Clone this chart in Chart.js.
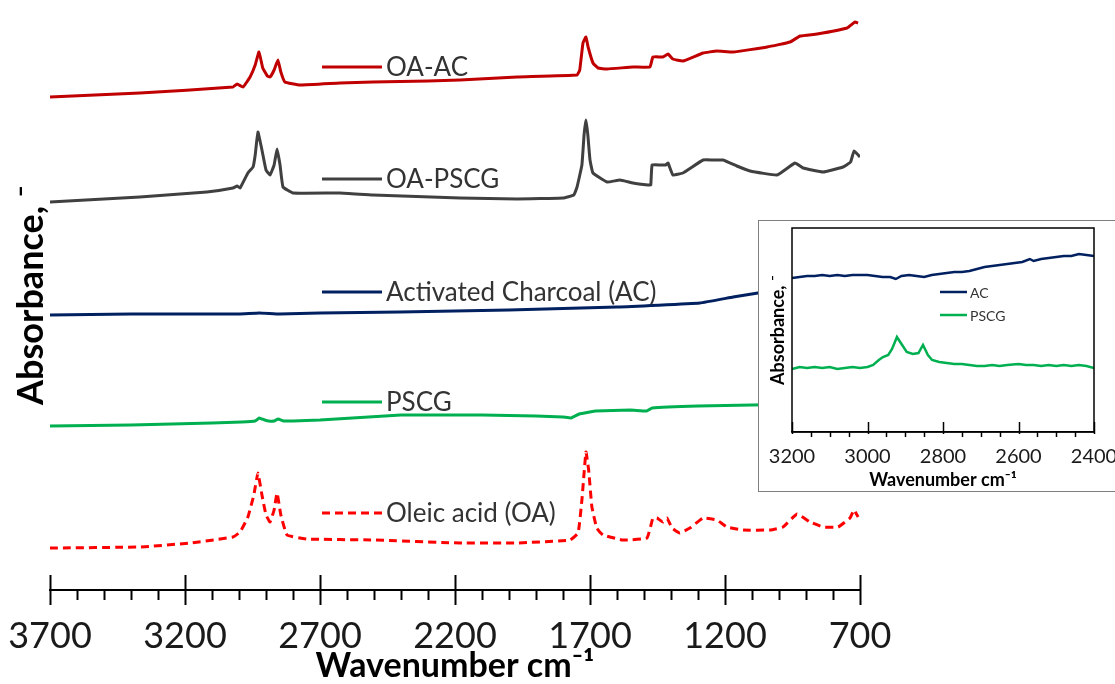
<!DOCTYPE html>
<html>
<head>
<meta charset="utf-8">
<script src="https://cdn.jsdelivr.net/npm/chart.js@4.4.1/dist/chart.umd.min.js"></script>
<style>
  html, body { margin: 0; padding: 0; background: #fff; }
  #wrap { position: relative; width: 1115px; height: 684px; overflow: hidden; }
  #mainChart { position: absolute; left: 0; top: 0; }
  #insetBox { position: absolute; left: 758px; top: 220px; width: 357px; height: 272px;
              background: #fff; border: 1px solid #7f7f7f; border-right: none; box-sizing: border-box; }
  #insetChart { position: absolute; left: 0; top: 0; }
</style>
</head>
<body>
<div id="wrap">
  <canvas id="mainChart" width="1115" height="684"></canvas>
  <div id="insetBox"><canvas id="insetChart" width="356" height="270"></canvas></div>
</div>
<script>
// ---- main spectra (wavenumber cm-1, offset absorbance) ----
const oaAcWn = [3700, 3367, 3022, 3007, 2985, 2959, 2940, 2926, 2912, 2895, 2885, 2870, 2856, 2845, 2830, 2774, 2626, 2504, 2300, 2181, 1970, 1748, 1738, 1726, 1715, 1707, 1689, 1670, 1637, 1541, 1478, 1467, 1430, 1411, 1393, 1356, 1281, 1230, 1170, 1044, 959, 922, 859, 748, 719, 707];
const oaAcAbs = [4.93, 4.97, 5.03, 5.06, 5.03, 5.13, 5.25, 5.38, 5.22, 5.14, 5.13, 5.20, 5.30, 5.18, 5.08, 5.05, 5.07, 5.08, 5.09, 5.10, 5.13, 5.15, 5.20, 5.47, 5.53, 5.43, 5.27, 5.22, 5.21, 5.23, 5.23, 5.33, 5.33, 5.36, 5.31, 5.29, 5.37, 5.39, 5.38, 5.43, 5.48, 5.54, 5.56, 5.62, 5.68, 5.67];

const oaPscgWn = [3700, 3367, 3119, 3022, 3007, 2996, 2967, 2948, 2940, 2930, 2915, 2900, 2885, 2870, 2859, 2848, 2837, 2800, 2626, 2504, 2181, 1970, 1800, 1760, 1748, 1730, 1722, 1715, 1708, 1700, 1689, 1637, 1589, 1541, 1485, 1475, 1470, 1441, 1420, 1411, 1393, 1356, 1281, 1244, 1207, 1156, 1107, 1007, 941, 911, 837, 763, 735, 722, 700];
const oaPscgAbs = [3.88, 3.93, 3.98, 4.02, 4.04, 4.02, 4.17, 4.23, 4.35, 4.58, 4.40, 4.20, 4.15, 4.25, 4.41, 4.25, 4.03, 3.97, 3.97, 3.95, 3.92, 3.91, 3.92, 3.95, 4.03, 4.25, 4.55, 4.70, 4.55, 4.30, 4.17, 4.08, 4.10, 4.07, 4.05, 4.05, 4.25, 4.25, 4.25, 4.27, 4.15, 4.17, 4.30, 4.30, 4.30, 4.24, 4.19, 4.15, 4.27, 4.22, 4.18, 4.23, 4.28, 4.39, 4.33];

const acWn = [3700, 3400, 3000, 2925, 2850, 2700, 2404, 2000, 1600, 1293, 1170, 1078, 900, 700];
const acAbs = [2.75, 2.76, 2.76, 2.77, 2.76, 2.77, 2.78, 2.80, 2.83, 2.87, 2.93, 2.97, 3.05, 3.12];

const pscgWn = [3700, 3400, 3100, 2990, 2940, 2925, 2905, 2890, 2870, 2855, 2835, 2800, 2700, 2400, 2100, 1900, 1800, 1770, 1740, 1700, 1680, 1550, 1490, 1470, 1300, 1100, 900, 700];
const pscgAbs = [1.64, 1.65, 1.67, 1.68, 1.69, 1.72, 1.70, 1.69, 1.69, 1.71, 1.69, 1.69, 1.70, 1.75, 1.75, 1.74, 1.73, 1.72, 1.76, 1.78, 1.79, 1.80, 1.79, 1.82, 1.84, 1.85, 1.86, 1.86];

const oaWn = [3700, 3367, 3181, 3022, 2996, 2967, 2945, 2930, 2915, 2900, 2885, 2870, 2859, 2845, 2822, 2748, 2504, 2181, 1970, 1774, 1744, 1730, 1715, 1705, 1693, 1675, 1652, 1578, 1489, 1467, 1452, 1430, 1415, 1396, 1367, 1330, 1281, 1230, 1193, 1133, 1033, 985, 933, 885, 837, 781, 737, 722, 707];
const oaAbs = [0.42, 0.43, 0.47, 0.53, 0.58, 0.73, 0.95, 1.17, 0.95, 0.75, 0.68, 0.80, 0.97, 0.75, 0.55, 0.51, 0.50, 0.47, 0.47, 0.50, 0.57, 0.90, 1.38, 1.20, 0.83, 0.62, 0.55, 0.50, 0.52, 0.72, 0.72, 0.68, 0.72, 0.62, 0.57, 0.62, 0.72, 0.70, 0.63, 0.60, 0.60, 0.63, 0.76, 0.68, 0.63, 0.63, 0.72, 0.80, 0.73];

const mainLabels = ['OA-AC', 'OA-PSCG', 'Activated Charcoal (AC)', 'PSCG', 'Oleic acid (OA)'];

// ---- inset spectra (3200-2400 cm-1) ----
const insetAcWn = [3200, 3180, 3160, 3140, 3120, 3100, 3080, 3060, 3040, 3020, 3000, 2980, 2960, 2940, 2925, 2910, 2890, 2870, 2850, 2830, 2810, 2790, 2770, 2750, 2730, 2710, 2690, 2670, 2650, 2630, 2610, 2590, 2570, 2560, 2540, 2520, 2500, 2480, 2460, 2440, 2420, 2400];
const insetAcAbs = [1.54, 1.55, 1.56, 1.56, 1.57, 1.56, 1.57, 1.56, 1.57, 1.57, 1.57, 1.56, 1.55, 1.55, 1.53, 1.56, 1.57, 1.56, 1.55, 1.57, 1.58, 1.59, 1.60, 1.60, 1.61, 1.63, 1.65, 1.66, 1.67, 1.68, 1.69, 1.70, 1.73, 1.71, 1.73, 1.74, 1.75, 1.76, 1.76, 1.78, 1.77, 1.76];

const insetPscgWn = [3200, 3180, 3160, 3140, 3120, 3100, 3080, 3060, 3040, 3020, 3000, 2985, 2970, 2959, 2945, 2935, 2922, 2910, 2896, 2880, 2865, 2853, 2840, 2829, 2810, 2790, 2770, 2750, 2730, 2710, 2690, 2670, 2650, 2630, 2600, 2580, 2560, 2540, 2520, 2500, 2480, 2460, 2440, 2420, 2400];
const insetPscgAbs = [0.63, 0.65, 0.64, 0.65, 0.64, 0.65, 0.63, 0.64, 0.65, 0.64, 0.65, 0.67, 0.72, 0.75, 0.77, 0.83, 0.95, 0.88, 0.80, 0.78, 0.79, 0.87, 0.77, 0.72, 0.70, 0.69, 0.68, 0.68, 0.67, 0.66, 0.66, 0.67, 0.66, 0.67, 0.68, 0.67, 0.67, 0.66, 0.67, 0.66, 0.67, 0.66, 0.67, 0.66, 0.64];

const insetLabels = ['AC', 'PSCG'];

const FONT = "Lato, 'Open Sans', sans-serif";

function toPoints(wn, abs) {
    return wn.map((w, i) => ({ x: w, y: abs[i] }));
}

function spectrum(label, wn, abs, color, dash) {
    return {
        label: label,
        data: toPoints(wn, abs),
        borderColor: color,
        backgroundColor: color,
        borderWidth: 3,
        borderDash: dash || [],
        pointRadius: 0,
        tension: 0.1,
        fill: false
    };
}

// fixed axis sizes so the plot box lands where the original has it
function fixHeight(h) {
    return s => { s.height = h; s.paddingLeft = 0; s.paddingRight = 0; };
}
function fixWidth(w) {
    return s => { s.width = w; s.paddingTop = 0; s.paddingBottom = 0; };
}

// Tick marks: majors cross the axis, minors hang below it
const axisTicks = {
    id: 'axisTicks',
    afterDraw(chart, args, o) {
        if (!o || !o.majorStep) return;
        const scale = chart.scales.x;
        const ctx = chart.ctx;
        const y = chart.chartArea.bottom;
        ctx.save();
        ctx.strokeStyle = '#000';
        ctx.lineWidth = o.width;
        scale.ticks.forEach(t => {
            const px = Math.round(scale.getPixelForValue(t.value)) + 0.5;
            const major = (t.value - o.majorBase) % o.majorStep === 0;
            ctx.beginPath();
            ctx.moveTo(px, y - (major ? o.majorUp : o.minorUp));
            ctx.lineTo(px, y + (major ? o.majorDown : o.minorDown));
            ctx.stroke();
        });
        ctx.restore();
    }
};

// Labels written beside a short sample of each line
const inlineLegend = {
    id: 'inlineLegend',
    afterDraw(chart, args, o) {
        if (!o || !o.ys) return;
        const ctx = chart.ctx;
        ctx.save();
        chart.data.datasets.forEach((ds, i) => {
            const y = o.ys[i];
            ctx.strokeStyle = ds.borderColor;
            ctx.lineWidth = o.lineWidth;
            ctx.setLineDash(ds.borderDash || []);
            ctx.beginPath();
            ctx.moveTo(o.x0, y);
            ctx.lineTo(o.x1, y);
            ctx.stroke();
            ctx.setLineDash([]);
            ctx.fillStyle = o.color;
            ctx.font = o.font;
            ctx.textBaseline = 'middle';
            ctx.textAlign = 'left';
            ctx.fillText(ds.label, o.textX, y + 1);
        });
        ctx.restore();
    }
};

// Black frame around the inset plot
const frameBox = {
    id: 'frameBox',
    afterDraw(chart) {
        const a = chart.chartArea;
        const ctx = chart.ctx;
        ctx.save();
        ctx.strokeStyle = '#000';
        ctx.lineWidth = 1.5;
        ctx.strokeRect(a.left, a.top, a.right - a.left, a.bottom - a.top);
        ctx.restore();
    }
};

new Chart(document.getElementById('mainChart'), {
    type: 'line',
    data: {
        datasets: [
            spectrum(mainLabels[0], oaAcWn, oaAcAbs, '#C00000'),
            spectrum(mainLabels[1], oaPscgWn, oaPscgAbs, '#404040'),
            spectrum(mainLabels[2], acWn, acAbs, '#002060'),
            spectrum(mainLabels[3], pscgWn, pscgAbs, '#00B050'),
            spectrum(mainLabels[4], oaWn, oaAbs, '#FF0000', [8, 5])
        ]
    },
    options: {
        responsive: false,
        animation: false,
        layout: { autoPadding: false, padding: { left: 11, right: 255, top: 0, bottom: 0 } },
        plugins: {
            legend: { display: false },
            tooltip: { enabled: false },
            axisTicks: {
                width: 2, majorUp: 15, majorDown: 15, minorUp: 0, minorDown: 10,
                majorBase: 700, majorStep: 500
            },
            inlineLegend: {
                ys: [67, 179, 292, 402, 513], x0: 322, x1: 382, textX: 386,
                lineWidth: 3, font: "26px " + FONT, color: '#333333'
            }
        },
        scales: {
            x: {
                type: 'linear',
                min: 700,
                max: 3700,
                reverse: true,
                afterFit: fixHeight(94),
                border: { display: true, color: '#000', width: 2 },
                grid: { display: false, drawTicks: false },
                ticks: {
                    stepSize: 100,
                    autoSkip: false,
                    maxRotation: 0,
                    padding: 28,
                    color: '#1a1a1a',
                    font: { family: FONT, size: 36, lineHeight: 1 },
                    callback: v => ((v - 700) % 500 === 0 ? String(v) : '')
                },
                title: {
                    display: true,
                    text: 'Wavenumber cm⁻¹',
                    color: '#000',
                    font: { family: FONT, size: 34, weight: 'bold', lineHeight: 1 },
                    padding: { top: 0, bottom: 1 }
                }
            },
            y: {
                min: 0,
                max: 5.9,
                afterFit: fixWidth(39),
                border: { display: false },
                grid: { display: false, drawTicks: false },
                ticks: { display: false },
                title: {
                    display: true,
                    text: 'Absorbance, ⁻',
                    color: '#000',
                    font: { family: FONT, size: 36, weight: 'bold', lineHeight: 1 },
                    padding: { top: 2, bottom: 0 }
                }
            }
        }
    },
    plugins: [axisTicks, inlineLegend]
});

new Chart(document.getElementById('insetChart'), {
    type: 'line',
    data: {
        datasets: [
            Object.assign(spectrum(insetLabels[0], insetAcWn, insetAcAbs, '#002060'), { borderWidth: 2.5, tension: 0 }),
            Object.assign(spectrum(insetLabels[1], insetPscgWn, insetPscgAbs, '#00B050'), { borderWidth: 2.5, tension: 0 })
        ]
    },
    options: {
        responsive: false,
        animation: false,
        layout: { autoPadding: false, padding: { left: 6, right: 21, top: 7, bottom: 0 } },
        plugins: {
            legend: { display: false },
            tooltip: { enabled: false },
            axisTicks: {
                width: 1.5, majorUp: 10, majorDown: 2, minorUp: 0, minorDown: 5,
                majorBase: 2400, majorStep: 200
            },
            inlineLegend: {
                ys: [71, 94], x0: 181, x1: 208, textX: 211,
                lineWidth: 2.5, font: "14px " + FONT, color: '#333333'
            }
        },
        scales: {
            x: {
                type: 'linear',
                min: 2400,
                max: 3200,
                reverse: true,
                afterFit: fixHeight(59),
                border: { display: true, color: '#000', width: 1.5 },
                grid: { display: false, drawTicks: false },
                ticks: {
                    stepSize: 50,
                    autoSkip: false,
                    maxRotation: 0,
                    padding: 15,
                    color: '#1a1a1a',
                    font: { family: FONT, size: 20, lineHeight: 1 },
                    callback: v => ((v - 2400) % 200 === 0 ? String(v) : '')
                },
                title: {
                    display: true,
                    text: 'Wavenumber cm⁻¹',
                    color: '#000',
                    font: { family: FONT, size: 18, weight: 'bold', lineHeight: 1 },
                    padding: { top: 0, bottom: 2 }
                }
            },
            y: {
                min: 0,
                max: 2.04,
                afterFit: fixWidth(27),
                border: { display: false },
                grid: { display: false, drawTicks: false },
                ticks: { display: false },
                title: {
                    display: true,
                    text: 'Absorbance, ⁻',
                    color: '#000',
                    font: { family: FONT, size: 18, weight: 'bold', lineHeight: 1 },
                    padding: { top: 4, bottom: 0 }
                }
            }
        }
    },
    plugins: [frameBox, axisTicks, inlineLegend]
});
</script>
</body>
</html>
